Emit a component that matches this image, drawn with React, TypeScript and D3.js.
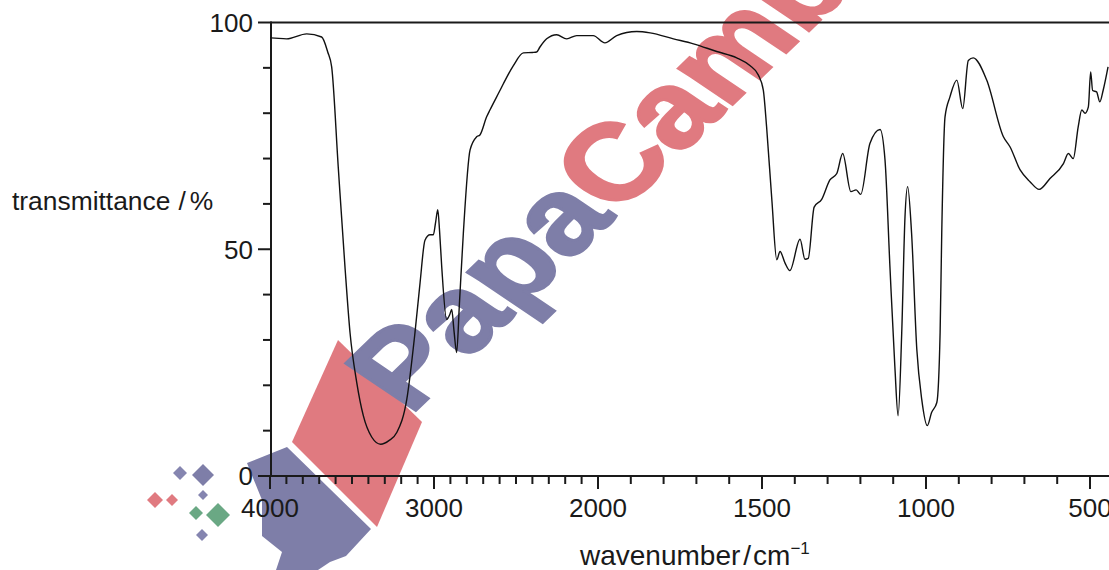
import React, { useEffect, useRef } from 'react'
import * as d3 from 'd3'

// IR spectrum
const wavenumbers = [
  4000, 3994, 3899, 3776, 3685, 3648, 3624, 3584, 3543, 3512, 3471, 3431, 3380, 3325, 3275, 3227,
  3166, 3116, 3085, 3055, 3024, 3004, 2990, 2977, 2966, 2953, 2923, 2905, 2892, 2878, 2862, 2845,
  2821, 2780, 2740, 2720, 2679, 2659, 2598, 2577, 2516, 2455, 2400, 2374, 2354, 2313, 2252, 2191,
  2130, 2029, 1979, 1943, 1882, 1841, 1770, 1709, 1638, 1577, 1537, 1511, 1496, 1486, 1470, 1455,
  1445, 1430, 1415, 1384, 1369, 1359, 1341, 1318, 1293, 1272, 1254, 1229, 1213, 1199, 1171, 1140,
  1125, 1110, 1095, 1085, 1074, 1064, 1056, 1044, 1028, 1013, 996, 983, 967, 957, 952, 942,
  927, 906, 888, 871, 856, 815, 764, 744, 713, 683, 655, 622, 581, 566, 551, 536,
  525, 515, 505, 498, 492, 480, 470, 460, 445
]
const transmittance = [
  96.6, 96.6, 96.4, 97.5, 96.8, 93.5, 90.2, 68.2, 46.2, 31.6, 20.6, 13.3, 8.6, 7.0, 7.8, 9.6,
  16.9, 31.6, 42.6, 52, 53.2, 53.2, 56, 58.7, 54, 46.2, 34.5, 35.5, 36.7, 32, 27.2, 38,
  53.6, 71.9, 74.8, 75.2, 79.2, 80.7, 85, 86.5, 90.5, 93.3, 93.4, 93.5, 94.6, 96.4, 97.3, 96.4,
  97.1, 97.1, 95.5, 97.1, 98.0, 97.7, 96.4, 95.3, 93.6, 92.2, 90.5, 88.4, 85.1, 77, 60.9, 47.7,
  49.5, 47, 45.3, 52.2, 47.8, 48, 59.3, 61, 65.3, 66.7, 71.1, 62.7, 63.1, 62.1, 73.3, 76.4,
  69.7, 46.2, 24.2, 13.3, 31.6, 57.2, 63.8, 53.6, 27.9, 16.9, 11.1, 14, 16.2, 31.6, 53.6, 79.2,
  83.6, 87.3, 81, 91.6, 92.2, 87.3, 74.8, 72.6, 67.5, 64.9, 63.2, 65.6, 68.9, 71.1, 70, 77,
  80.7, 80, 81.4, 89.1, 85, 84.7, 82.5, 85, 90.2
]

const xBreaks = [4000, 2000, 500]
const xMajorTicks = [4000, 3000, 2000, 1500, 1000, 500]
const yMajorTicks = [0, 50, 100]

const FONT = '"Liberation Sans", Arial, Helvetica, sans-serif'
const INK = '#1a1a1a'
const WM_BLUE = '#7e7ea8'
const WM_RED = '#e07a80'

function App() {
  const svgRef = useRef<SVGSVGElement | null>(null)

  useEffect(() => {
    const svg = d3.select(svgRef.current)
    svg.selectAll('*').remove()

    const W = 1109
    const left = 271
    const top = 22.5
    const bottom = 476

    // wavenumber axis is compressed 2:1 above 2000 cm-1
    const x = d3.scaleLinear().domain(xBreaks).range([270, 598, 1090])
    const y = d3.scaleLinear().domain([0, 100]).range([bottom, top])

    // watermark (drawn under everything)
    const wm = svg.append('g')
    wm.append('polygon')
      .attr('points', '338,340 422,422 377,527 292,442')
      .attr('fill', WM_RED)
    wm.append('polygon')
      .attr('points', '247,463 287,447 371,529 346,556 330,562 318,570 276,570 282,552 262,536 262,500')
      .attr('fill', WM_BLUE)
    const diamonds = [
      [180, 473, 7, '#8585b0'], [203, 475, 11, WM_BLUE], [203, 495, 5, '#8585b0'],
      [155, 500, 8, WM_RED], [172, 500, 6, WM_RED],
      [196, 513, 7, '#6aa884'], [218, 515, 12, '#6aa884'], [202, 535, 6, '#8585b0']
    ] as [number, number, number, string][]
    diamonds.forEach(([cx, cy, r, c]) => {
      wm.append('polygon')
        .attr('points', `${cx},${cy - r} ${cx + r},${cy} ${cx},${cy + r} ${cx - r},${cy}`)
        .attr('fill', c)
    })
    const wmText = wm.append('text')
      .attr('transform', 'translate(410,416) rotate(-44) skewX(12)')
      .style('font-family', FONT)
      .style('font-weight', 'bold')
      .style('font-size', '120px')
      .attr('stroke-width', 3)
    wmText.append('tspan').attr('fill', WM_BLUE).attr('stroke', WM_BLUE).text('Papa')
    wmText.append('tspan').attr('fill', WM_RED).attr('stroke', WM_RED).text('Cambridge')

    // top frame line
    svg.append('line')
      .attr('x1', left).attr('x2', W).attr('y1', top).attr('y2', top)
      .attr('stroke', INK).attr('stroke-width', 2)

    // x axis
    const xMinor = d3.range(4000, 499, -100)
    const xAxis = svg.append('g').attr('transform', `translate(0,${bottom})`)
    xAxis.append('line')
      .attr('x1', left - 1).attr('x2', W).attr('stroke', INK).attr('stroke-width', 2)
    xAxis.selectAll('line.tick')
      .data(xMinor)
      .enter()
      .append('line')
      .attr('class', 'tick')
      .attr('x1', d => x(d)).attr('x2', d => x(d))
      .attr('y1', 0)
      .attr('y2', d => (xMajorTicks.includes(d) ? 13 : 8))
      .attr('stroke', INK).attr('stroke-width', 2)
    xAxis.selectAll('text')
      .data(xMajorTicks)
      .enter()
      .append('text')
      .attr('x', d => x(d))
      .attr('y', 41)
      .attr('text-anchor', 'middle')
      .attr('fill', INK)
      .style('font-family', FONT)
      .style('font-size', '26px')
      .text(d => d)

    // y axis
    const yMinor = d3.range(0, 101, 10)
    const yAxis = svg.append('g').attr('transform', `translate(${left},0)`)
    yAxis.append('line')
      .attr('y1', top - 1).attr('y2', bottom + 1).attr('stroke', INK).attr('stroke-width', 2)
    yAxis.selectAll('line.tick')
      .data(yMinor)
      .enter()
      .append('line')
      .attr('class', 'tick')
      .attr('y1', d => y(d)).attr('y2', d => y(d))
      .attr('x1', 0)
      .attr('x2', d => (yMajorTicks.includes(d) ? -13 : -8))
      .attr('stroke', INK).attr('stroke-width', 2)
    yAxis.selectAll('text')
      .data(yMajorTicks)
      .enter()
      .append('text')
      .attr('x', -18)
      .attr('y', d => y(d))
      .attr('dy', '0.36em')
      .attr('text-anchor', 'end')
      .attr('fill', INK)
      .style('font-family', FONT)
      .style('font-size', '26px')
      .text(d => d)

    // axis titles
    const yt = svg.append('text')
      .attr('x', 12).attr('y', 210)
      .attr('fill', INK)
      .style('font-family', FONT)
      .style('font-size', '26.4px')
    yt.append('tspan').text('transmittance')
    yt.append('tspan').attr('dx', 8).text('/')
    yt.append('tspan').attr('dx', 4).text('%')

    const xt = svg.append('text')
      .attr('x', 580).attr('y', 565)
      .attr('fill', INK)
      .style('font-family', FONT)
      .style('font-size', '28px')
    xt.append('tspan').text('wavenumber')
    xt.append('tspan').attr('dx', 3).text('/')
    xt.append('tspan').attr('dx', 2).text('cm')
    xt.append('tspan').attr('dy', -11).style('font-size', '17px').text('\u22121')

    // spectrum
    const pts = wavenumbers.map((w, i) => [w, transmittance[i]] as [number, number])
    const line = d3.line<[number, number]>()
      .x(d => x(d[0]))
      .y(d => y(d[1]))
      .curve(d3.curveMonotoneX)
    svg.append('path')
      .datum(pts)
      .attr('d', line)
      .attr('fill', 'none')
      .attr('stroke', '#111')
      .attr('stroke-width', 1.4)
      .attr('stroke-linejoin', 'round')
  }, [])

  return (
    <svg
      ref={svgRef}
      width={1109}
      height={570}
      style={{ position: 'absolute', left: 0, top: 0, background: '#fff' }}
    />
  )
}

export default App
